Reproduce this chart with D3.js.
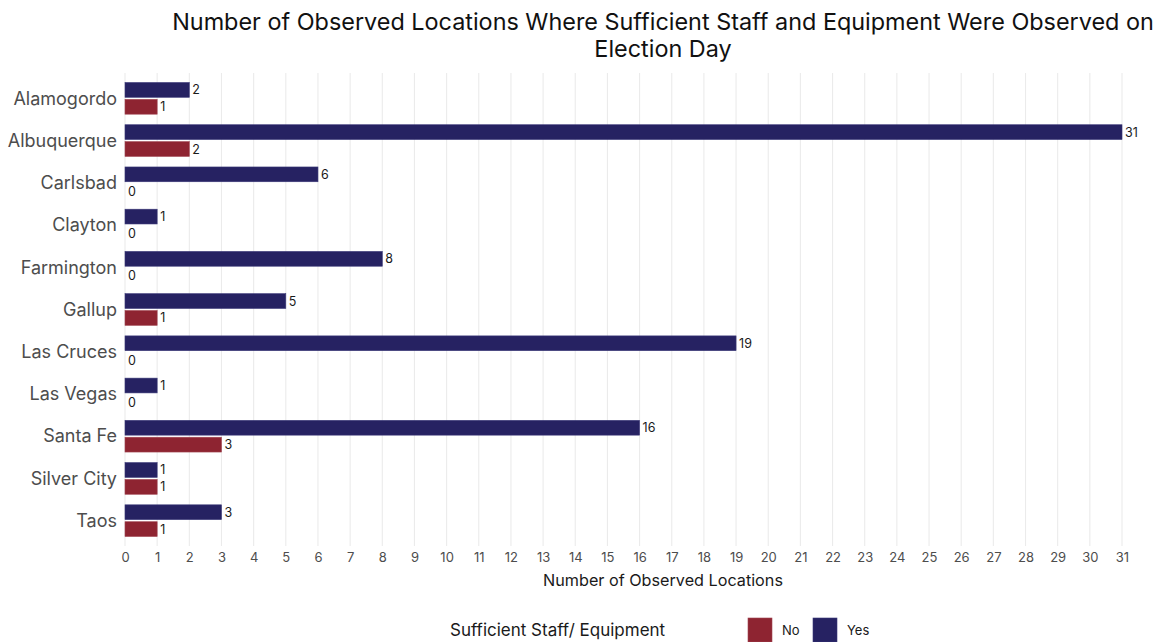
<!DOCTYPE html>
<html>
<head>
<meta charset="utf-8">
<script src="https://cdn.jsdelivr.net/npm/d3@7"></script>
<style>
  html, body { margin: 0; padding: 0; background: #ffffff; }
  svg text { font-family: "Inter", "Noto Sans", sans-serif; }
</style>
</head>
<body>
<svg id="chart" width="1168" height="642"></svg>
<script>
// Observed polling locations by city, split by whether staff/equipment were sufficient
const cities = ["Alamogordo", "Albuquerque", "Carlsbad", "Clayton", "Farmington", "Gallup",
                "Las Cruces", "Las Vegas", "Santa Fe", "Silver City", "Taos"];
const yesCounts = [2, 31, 6, 1, 8, 5, 19, 1, 16, 1, 3];
const noCounts  = [1, 2, 0, 0, 0, 1, 0, 0, 3, 1, 1];
const legendKeys = ["No", "Yes"];
const xTicks = d3.range(0, 32);

const colors = { Yes: "#262262", No: "#8e2431" };

const svg = d3.select("#chart");
const panel = { left: 125, right: 1122, top: 73, bottom: 546 };

const x = d3.scaleLinear().domain([0, 31]).range([panel.left, panel.right]);

// Discrete axis with 0.6-unit padding at each end
const step = (panel.bottom - panel.top) / (cities.length - 1 + 1.2);
const y = d3.scalePoint().domain(cities)
  .range([panel.top + 0.6 * step, panel.bottom - 0.6 * step]);

const dodge = 0.2 * step;     // offset of each bar's centre from the category centre
const barH = 0.35 * step;     // bar thickness
const offset = { Yes: -dodge, No: dodge };

// Vertical grid lines
svg.append("g")
  .selectAll("line")
  .data(xTicks)
  .join("line")
  .attr("x1", d => x(d)).attr("x2", d => x(d))
  .attr("y1", panel.top).attr("y2", panel.bottom)
  .attr("stroke", "#ebebeb").attr("stroke-width", 1.1);

// Rows of data
const rows = [];
cities.forEach((c, i) => {
  rows.push({ city: c, group: "Yes", value: yesCounts[i] });
  rows.push({ city: c, group: "No", value: noCounts[i] });
});

svg.append("g")
  .selectAll("rect")
  .data(rows.filter(d => d.value > 0))
  .join("rect")
  .attr("x", x(0))
  .attr("y", d => y(d.city) + offset[d.group] - barH / 2)
  .attr("width", d => x(d.value) - x(0))
  .attr("height", barH)
  .attr("fill", d => colors[d.group])
  .attr("stroke", d => d.group === "Yes" ? "#3a3878" : "#a04450")
  .attr("stroke-width", 0.6);

// Value labels at the end of each bar
svg.append("g")
  .selectAll("text")
  .data(rows)
  .join("text")
  .attr("x", d => x(d.value) + 3)
  .attr("y", d => y(d.city) + offset[d.group])
  .attr("dy", "0.36em")
  .attr("font-size", 12.5)
  .attr("fill", "#1a1a1a")
  .text(d => d.value);

// X axis tick labels
const xAxis = d3.axisBottom(x).tickValues(xTicks).tickSize(0).tickPadding(0).tickFormat(d3.format("d"));
const gx = svg.append("g").attr("transform", `translate(0,${panel.bottom + 7})`).call(xAxis);
gx.select(".domain").remove();
gx.selectAll("text").attr("font-size", 13).attr("fill", "#4d4d4d")
  .attr("font-family", "Inter, 'Noto Sans', sans-serif").attr("dy", "0.71em");

// Y axis category labels
const yAxis = d3.axisLeft(y).tickSize(0).tickPadding(8);
const gy = svg.append("g").attr("transform", `translate(${panel.left},0)`).call(yAxis);
gy.select(".domain").remove();
gy.selectAll("text").attr("font-size", 18).attr("fill", "#4d4d4d")
  .attr("font-family", "Inter, 'Noto Sans', sans-serif");

// Axis title
svg.append("text")
  .attr("x", 663).attr("y", 586)
  .attr("text-anchor", "middle")
  .attr("font-size", 16.2).attr("fill", "#1a1a1a")
  .text("Number of Observed Locations");

// Chart title, two lines
const titleLines = ["Number of Observed Locations Where Sufficient Staff and Equipment Were Observed on",
                    "Election Day"];
svg.append("g")
  .selectAll("text")
  .data(titleLines)
  .join("text")
  .attr("x", 663)
  .attr("y", (d, i) => 30 + i * 27)
  .attr("text-anchor", "middle")
  .attr("font-size", 23.4).attr("fill", "#111111")
  .text(d => d);

// Legend
const legend = svg.append("g");
legend.append("text")
  .attr("x", 450).attr("y", 630).attr("dy", "0.36em")
  .attr("font-size", 17).attr("fill", "#1a1a1a")
  .text("Sufficient Staff/ Equipment");

const keyX = { No: 748, Yes: 813 };
legendKeys.forEach(k => {
  legend.append("rect")
    .attr("x", keyX[k]).attr("y", 618)
    .attr("width", 24).attr("height", 24)
    .attr("fill", colors[k])
    .attr("stroke", k === "Yes" ? "#3a3878" : "#a04450").attr("stroke-width", 0.6);
  legend.append("text")
    .attr("x", keyX[k] + 34).attr("y", 630).attr("dy", "0.36em")
    .attr("font-size", 13).attr("fill", "#1a1a1a")
    .text(k);
});
</script>
</body>
</html>
